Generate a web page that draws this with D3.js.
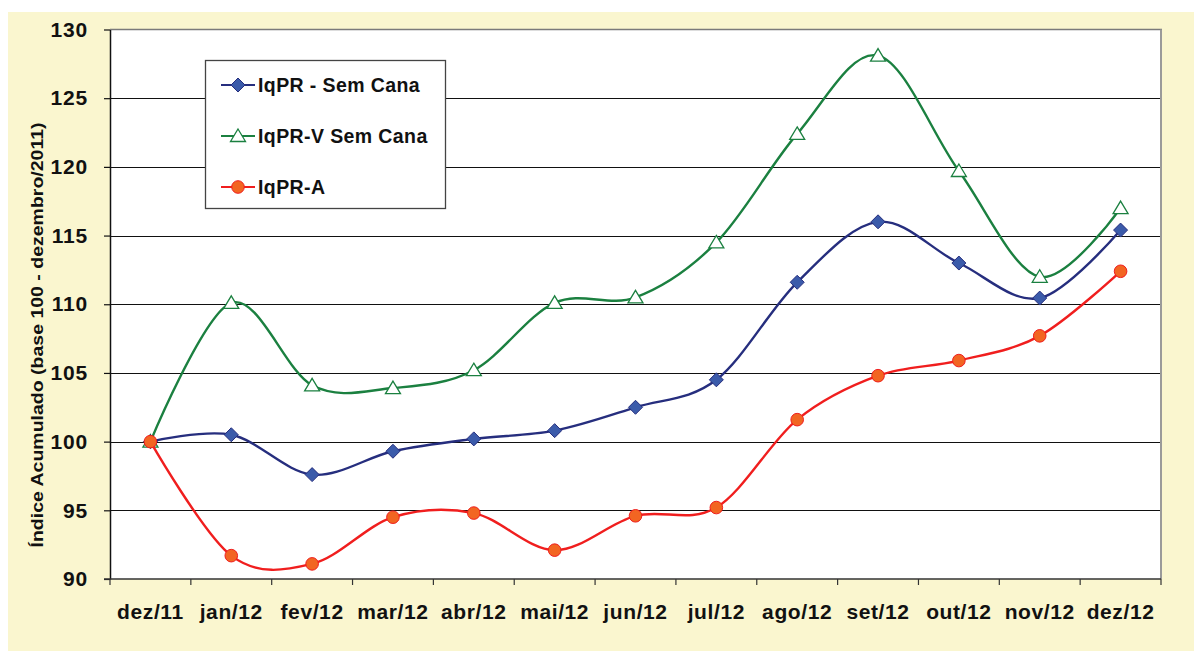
<!DOCTYPE html>
<html>
<head>
<meta charset="utf-8">
<script src="https://cdn.jsdelivr.net/npm/d3@7"></script>
<style>
  html, body { margin: 0; padding: 0; background: #ffffff; }
  svg { display: block; }
  text { font-family: "Liberation Sans", Arial, sans-serif; }
</style>
</head>
<body>
<svg id="chart" width="1194" height="657"></svg>
<script>
const categories = ["dez/11","jan/12","fev/12","mar/12","abr/12","mai/12","jun/12","jul/12","ago/12","set/12","out/12","nov/12","dez/12"];
const semCana  = [100, 100.5, 97.6, 99.3, 100.2, 100.8, 102.5, 104.5, 111.6, 116.0, 113.0, 110.45, 115.4];
const vSemCana = [100, 110.1, 104.1, 103.9, 105.2, 110.1, 110.5, 114.5, 122.4, 128.1, 119.7, 112.0, 117.0];
const iqprA    = [100, 91.7, 91.1, 94.5, 94.8, 92.1, 94.6, 95.2, 101.6, 104.8, 105.9, 107.7, 112.4];
const yTicks = [90, 95, 100, 105, 110, 115, 120, 125, 130];
const seriesNames = ["IqPR - Sem Cana", "IqPR-V Sem Cana", "IqPR-A"];

const svg = d3.select("#chart");
const W = 1194, H = 657;
const plot = {left: 110, right: 1161, top: 29.5, bottom: 579};

// background panel
svg.append("rect").attr("x", 8).attr("y", 12).attr("width", W - 8).attr("height", 639)
  .attr("fill", "#FAF6CF");

// plot area
svg.append("rect").attr("x", plot.left).attr("y", plot.top)
  .attr("width", plot.right - plot.left).attr("height", plot.bottom - plot.top)
  .attr("fill", "#ffffff");

const xBand = d3.scaleBand().domain(categories).range([plot.left, plot.right]).padding(0);
const xc = d => xBand(d) + xBand.bandwidth() / 2;
const y = d3.scaleLinear().domain([90, 130]).range([plot.bottom, plot.top]);

// gridlines
svg.append("g").selectAll("line").data(yTicks.filter(t => t > 90 && t < 130)).join("line")
  .attr("x1", plot.left).attr("x2", plot.right)
  .attr("y1", d => Math.round(y(d)) + 0.5).attr("y2", d => Math.round(y(d)) + 0.5)
  .attr("stroke", "#111").attr("stroke-width", 1.2);

// plot border (top / right gray)
svg.append("line").attr("x1", plot.left).attr("x2", plot.right + 1)
  .attr("y1", plot.top).attr("y2", plot.top).attr("stroke", "#7a7a7a").attr("stroke-width", 1.5);
svg.append("line").attr("x1", plot.right).attr("x2", plot.right)
  .attr("y1", plot.top).attr("y2", plot.bottom).attr("stroke", "#9a9a9a").attr("stroke-width", 2);

// y axis
const yAxis = d3.axisLeft(y).tickValues(yTicks).tickSize(6).tickPadding(16).tickSizeOuter(0);
const gy = svg.append("g").attr("transform", `translate(${plot.left},0)`).call(yAxis);
gy.select(".domain").attr("stroke", "#111").attr("stroke-width", 1.5);
gy.selectAll(".tick line").attr("stroke", "#111").attr("stroke-width", 1.2);
gy.selectAll(".tick text").attr("font-size", 21).attr("font-weight", "bold").attr("fill", "#111")
  .attr("font-family", "Liberation Sans, Arial, sans-serif").attr("letter-spacing", 0.8);

// x axis: ticks at category boundaries
const gx = svg.append("g").attr("transform", `translate(0,${plot.bottom})`);
gx.append("line").attr("x1", plot.left - 6).attr("x2", plot.right).attr("y1", 0).attr("y2", 0)
  .attr("stroke", "#333").attr("stroke-width", 1.5);
const boundaries = categories.map(c => xBand(c)).concat([plot.right]);
gx.selectAll("line.tk").data(boundaries).join("line").attr("class", "tk")
  .attr("x1", d => d).attr("x2", d => d).attr("y1", 0).attr("y2", 6)
  .attr("stroke", "#333").attr("stroke-width", 1.2);
gx.selectAll("text").data(categories).join("text")
  .attr("x", d => xc(d)).attr("y", 40)
  .attr("text-anchor", "middle").attr("font-size", 21).attr("font-weight", "bold").attr("fill", "#111")
  .attr("letter-spacing", 0.6)
  .text(d => d);

// y axis title
svg.append("text")
  .attr("transform", `translate(43,${335}) rotate(-90)`)
  .attr("text-anchor", "middle").attr("font-size", 16).attr("font-weight", "bold").attr("fill", "#111")
  .attr("textLength", 425).attr("lengthAdjust", "spacingAndGlyphs")
  .text("Índice Acumulado (base 100 - dezembro/2011)");

const line = d3.line().x((d, i) => xc(categories[i])).y(d => y(d)).curve(d3.curveCatmullRom.alpha(0));

const series = [
  {name: seriesNames[1], values: vSemCana, color: "#1B8040", marker: "triangle"},
  {name: seriesNames[0], values: semCana, color: "#262E7E", marker: "diamond"},
  {name: seriesNames[2], values: iqprA, color: "#F01E1E", marker: "circle"}
];

function drawMarker(g, type, cx, cy, color) {
  if (type === "diamond") {
    g.append("path").attr("d", `M${cx},${cy-7}L${cx+7},${cy}L${cx},${cy+7}L${cx-7},${cy}Z`)
      .attr("fill", "#3B5BAA").attr("stroke", "#262E7E").attr("stroke-width", 1);
  } else if (type === "triangle") {
    g.append("path").attr("d", `M${cx},${cy-7}L${cx+7.5},${cy+5.5}L${cx-7.5},${cy+5.5}Z`)
      .attr("fill", "#ffffff").attr("stroke", "#1B8040").attr("stroke-width", 1.3);
  } else {
    g.append("circle").attr("cx", cx).attr("cy", cy).attr("r", 6.3)
      .attr("fill", "#F26522").attr("stroke", "#F01E1E").attr("stroke-width", 1);
  }
}

series.forEach(s => {
  const g = svg.append("g");
  g.append("path").datum(s.values).attr("d", line).attr("fill", "none")
    .attr("stroke", s.color).attr("stroke-width", 2.4);
  s.values.forEach((v, i) => drawMarker(g, s.marker, xc(categories[i]), y(v), s.color));
});

// legend
const lg = svg.append("g");
lg.append("rect").attr("x", 205.5).attr("y", 60.5).attr("width", 240).attr("height", 148)
  .attr("fill", "#ffffff").attr("stroke", "#444").attr("stroke-width", 1.3);
const legendItems = [series[1], series[0], series[2]];
const rowY = [85, 136, 187];
legendItems.forEach((s, i) => {
  const yy = rowY[i];
  lg.append("line").attr("x1", 221).attr("x2", 255).attr("y1", yy).attr("y2", yy)
    .attr("stroke", s.color).attr("stroke-width", 2);
  drawMarker(lg, s.marker, 238, yy, s.color);
  lg.append("text").attr("x", 258).attr("y", yy + 7).attr("font-size", 19.5).attr("font-weight", "bold")
    .attr("fill", "#111").attr("letter-spacing", 0.4).text(s.name);
});
</script>
</body>
</html>
